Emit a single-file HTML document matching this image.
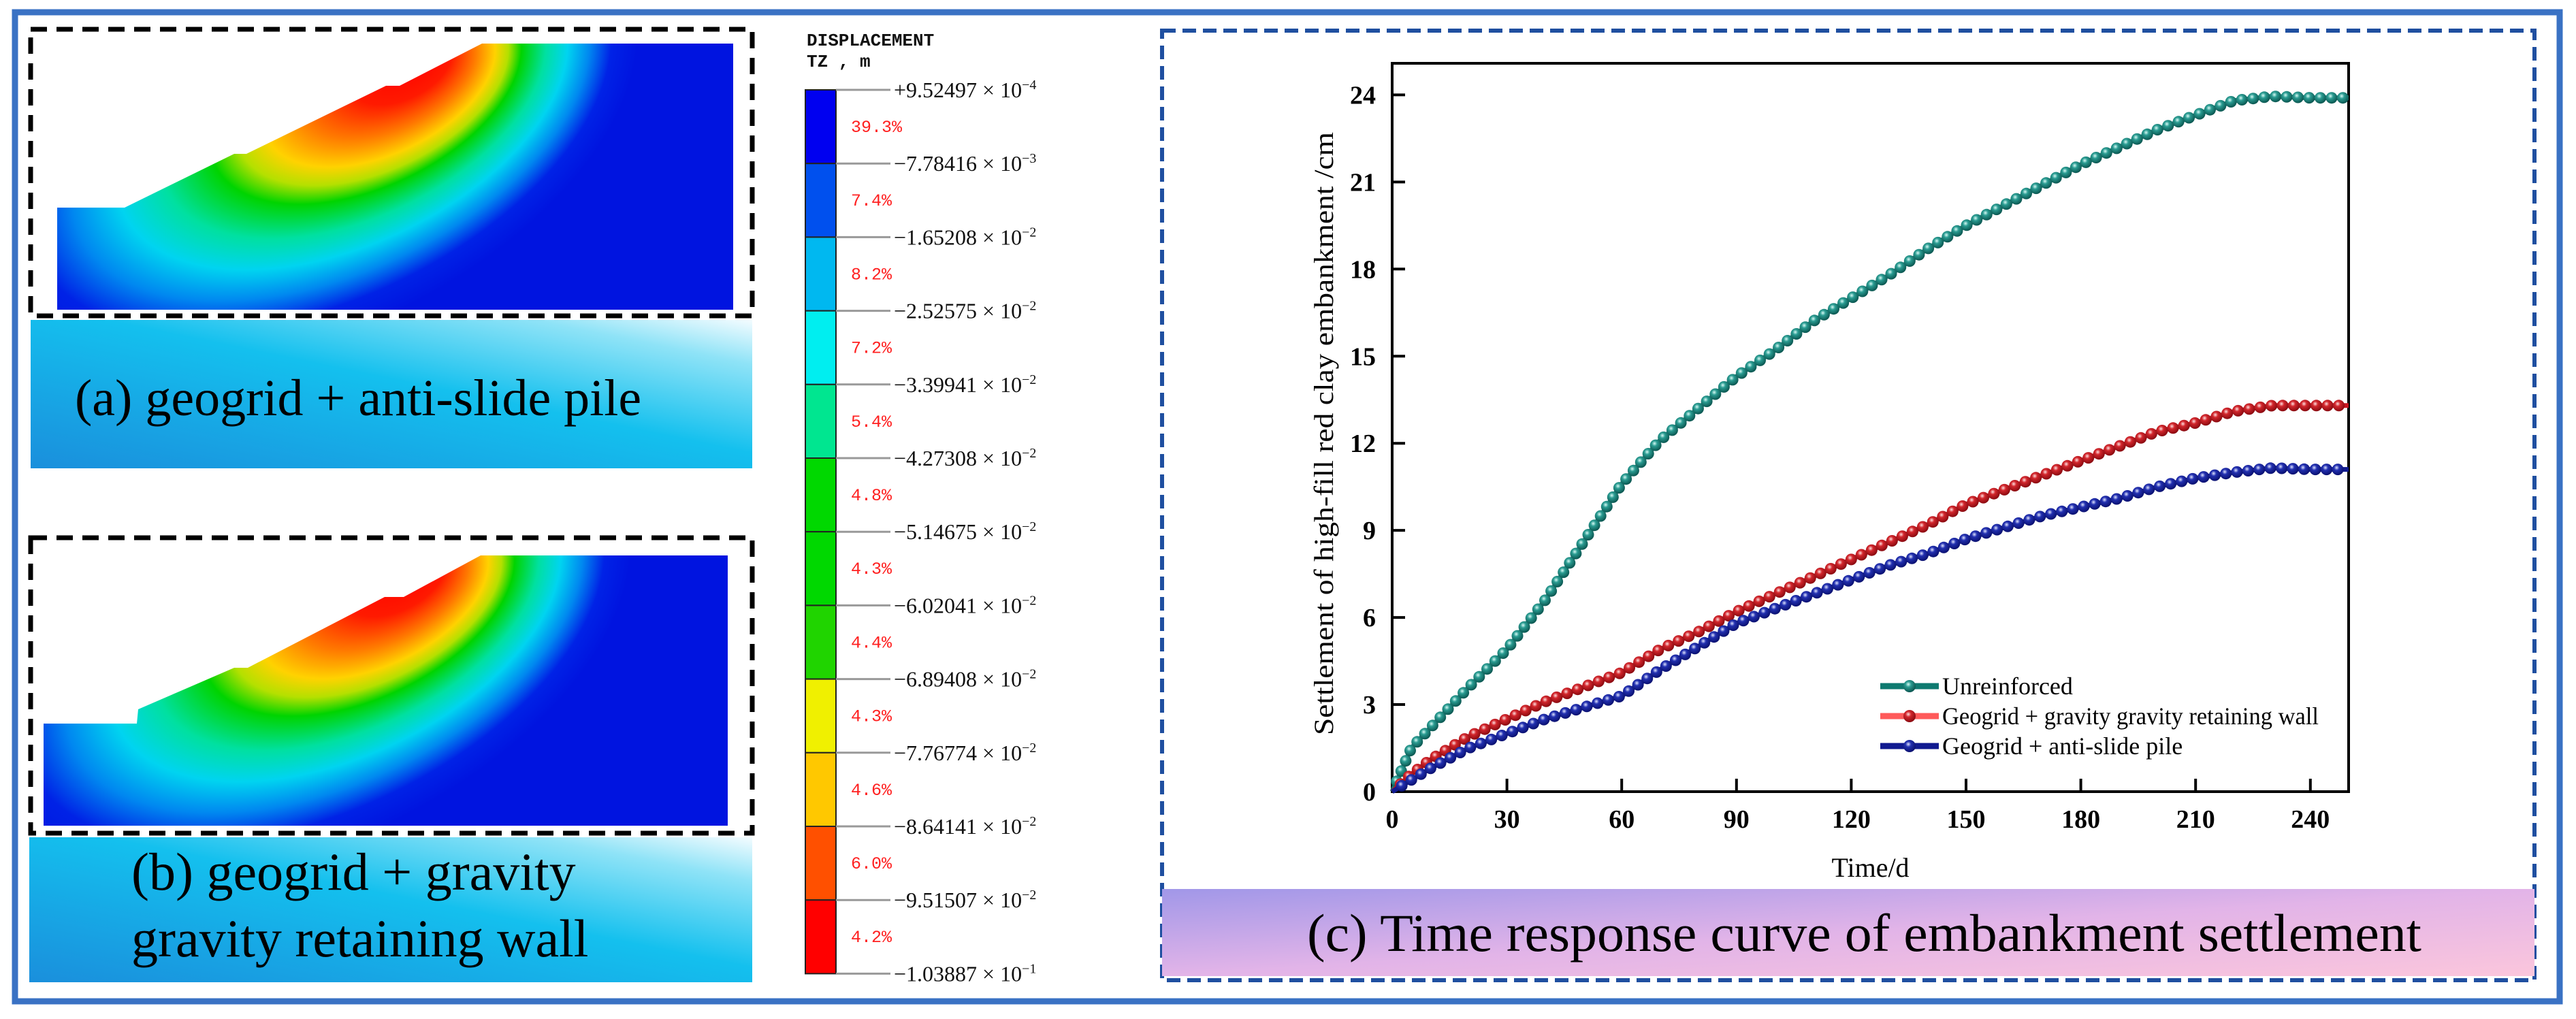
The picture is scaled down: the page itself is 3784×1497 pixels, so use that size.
<!DOCTYPE html>
<html><head><meta charset="utf-8"><style>
html,body{margin:0;padding:0;background:#fff;}
svg{display:block;}
text{font-family:"Liberation Serif",serif;}
</style></head><body>
<svg id="root" width="3784" height="1497" viewBox="0 0 3784 1497" xmlns="http://www.w3.org/2000/svg">
<defs>
<linearGradient id="capAB" x1="0" y1="1" x2="1" y2="0">
<stop offset="0" stop-color="#1a8fdc"/><stop offset="0.55" stop-color="#14c0ee"/><stop offset="0.85" stop-color="#8fe3f7"/><stop offset="1" stop-color="#f4fcff"/>
</linearGradient>
<linearGradient id="capC" x1="0" y1="0" x2="1" y2="1">
<stop offset="0" stop-color="#a197e8"/><stop offset="0.5" stop-color="#e2b4e8"/><stop offset="1" stop-color="#fbc6dc"/>
</linearGradient>
<radialGradient id="slopeA" gradientUnits="userSpaceOnUse" cx="0" cy="0" r="1" fx="0.38" fy="-0.12" gradientTransform="translate(450,200) rotate(-25) scale(520,290)">
<stop offset="0" stop-color="#ff0000"/><stop offset="0.15" stop-color="#ff1a00"/><stop offset="0.26" stop-color="#ff7a00"/><stop offset="0.35" stop-color="#ffd200"/><stop offset="0.41" stop-color="#b4e000"/><stop offset="0.47" stop-color="#00d400"/><stop offset="0.58" stop-color="#00e0a0"/><stop offset="0.68" stop-color="#00d4f0"/><stop offset="0.78" stop-color="#0088f0"/><stop offset="0.88" stop-color="#0022e6"/><stop offset="1" stop-color="#0014e0"/>
</radialGradient>
<radialGradient id="slopeB" gradientUnits="userSpaceOnUse" cx="0" cy="0" r="1" fx="0.38" fy="-0.12" gradientTransform="translate(440,952) rotate(-25) scale(520,290)">
<stop offset="0" stop-color="#ff0000"/><stop offset="0.15" stop-color="#ff1a00"/><stop offset="0.26" stop-color="#ff7a00"/><stop offset="0.35" stop-color="#ffd200"/><stop offset="0.41" stop-color="#b4e000"/><stop offset="0.47" stop-color="#00d400"/><stop offset="0.58" stop-color="#00e0a0"/><stop offset="0.68" stop-color="#00d4f0"/><stop offset="0.78" stop-color="#0088f0"/><stop offset="0.88" stop-color="#0022e6"/><stop offset="1" stop-color="#0014e0"/>
</radialGradient>
<radialGradient id="ballT" cx="0.4" cy="0.35" r="0.65"><stop offset="0" stop-color="#d8fbf6"/><stop offset="0.35" stop-color="#2a9c92"/><stop offset="1" stop-color="#0a5650"/></radialGradient>
<radialGradient id="ballR" cx="0.4" cy="0.35" r="0.65"><stop offset="0" stop-color="#ffe0e0"/><stop offset="0.35" stop-color="#d2262c"/><stop offset="1" stop-color="#8a0a10"/></radialGradient>
<radialGradient id="ballB" cx="0.4" cy="0.35" r="0.65"><stop offset="0" stop-color="#e0e4ff"/><stop offset="0.35" stop-color="#2230b0"/><stop offset="1" stop-color="#0a1070"/></radialGradient>
</defs>

<rect x="22" y="18" width="3738" height="1453" fill="none" stroke="#3a72c4" stroke-width="9"/>

<g>
<polygon points="84,305 183,305 344,226 362,226 567,126 587,126 708,64 1077,64 1077,455 84,455" fill="url(#slopeA)"/>
<rect x="45" y="43" width="1060" height="421" fill="none" stroke="#000" stroke-width="7" stroke-dasharray="24 14"/>
<rect x="45" y="470" width="1060" height="218" fill="url(#capAB)"/>
<text x="110" y="610" font-size="76" fill="#000">(a) geogrid + anti-slide pile</text>
</g>

<g>
<polygon points="64,1063 201,1063 203,1042 344,981 364,981 565,877 593,877 706,816 1069,816 1069,1213 64,1213" fill="url(#slopeB)"/>
<rect x="45" y="790" width="1060" height="434" fill="none" stroke="#000" stroke-width="7" stroke-dasharray="24 14"/>
<rect x="43" y="1230" width="1062" height="213" fill="url(#capAB)"/>
<text x="193" y="1307" font-size="78" fill="#000">(b) geogrid + gravity</text>
<text x="193" y="1405" font-size="78" fill="#000">gravity retaining wall</text>
</g>

<g id="cbar">
<text x="1185" y="67" font-size="26" font-weight="bold" style="font-family:'Liberation Mono',monospace" fill="#111">DISPLACEMENT</text>
<text x="1185" y="98" font-size="26" font-weight="bold" style="font-family:'Liberation Mono',monospace" fill="#111">TZ , m</text>
</g>

<rect x="1707" y="45" width="2016" height="1395" fill="none" stroke="#1f4fa0" stroke-width="6" stroke-dasharray="20 10"/>
<rect x="1707" y="1306" width="2016" height="128" fill="url(#capC)"/>
<text x="1920" y="1397" font-size="78" textLength="1637" lengthAdjust="spacingAndGlyphs" fill="#000">(c) Time response curve of embankment settlement</text>

<g id="chart"></g>
</svg>
<script>
const NS="http://www.w3.org/2000/svg";
// ---- chart data ----
const days=[0,5,10,20,30,40,50,60,70,80,90,100,110,120,130,140,150,160,170,180,190,200,210,220,230,240,250];
const unreinforced=[0,1.5,2.2,3.6,4.9,6.6,8.6,10.6,12.1,13.2,14.3,15.2,16.2,17.0,17.8,18.7,19.5,20.2,20.9,21.6,22.2,22.8,23.3,23.8,23.95,23.9,23.9];
const wallSeries=[0,0.6,1.1,1.9,2.5,3.1,3.6,4.1,4.9,5.5,6.2,6.8,7.4,8.0,8.6,9.2,9.9,10.4,10.9,11.4,11.9,12.4,12.7,13.1,13.3,13.3,13.3];
const pileSeries=[0,0.4,0.8,1.5,2.0,2.5,2.9,3.3,4.2,5.0,5.8,6.3,6.8,7.3,7.8,8.2,8.7,9.1,9.5,9.8,10.1,10.5,10.8,11.0,11.15,11.1,11.1];
const seriesNames=["Unreinforced","Geogrid + gravity gravity retaining wall","Geogrid + anti-slide pile"];
const xTicks=[0,30,60,90,120,150,180,210,240];
const yTicks=[0,3,6,9,12,15,18,21,24];
const cbLabels=["+9.52497","\u22127.78416","\u22121.65208","\u22122.52575","\u22123.39941","\u22124.27308","\u22125.14675","\u22126.02041","\u22126.89408","\u22127.76774","\u22128.64141","\u22129.51507","\u22121.03887"];
const cbExp=["\u22124","\u22123","\u22122","\u22122","\u22122","\u22122","\u22122","\u22122","\u22122","\u22122","\u22122","\u22122","\u22121"];
const cbPct=["39.3%","7.4%","8.2%","7.2%","5.4%","4.8%","4.3%","4.4%","4.3%","4.6%","6.0%","4.2%"];
const cbColors=["#0000f0","#0050ee","#00b8f0","#00eef0","#00e690","#00d800","#00d800","#20d400","#f0f000","#ffc800","#ff5000","#ff0000"];

function mk(tag,attrs,parent){const e=document.createElementNS(NS,tag);for(const k in attrs)e.setAttribute(k,attrs[k]);parent.appendChild(e);return e;}

const cb=document.getElementById('cbar');
const cbX=1183,cbW=45,cbTop=132,cbSeg=108.2;
cbColors.forEach((c,i)=>{
  const r=mk('rect',{x:cbX,y:cbTop+i*cbSeg,width:cbW,height:cbSeg,fill:c,stroke:'#222','stroke-width':2},cb);
  
  
  const p=mk('text',{x:1250,y:cbTop+i*cbSeg+62,'font-size':25,fill:'#ff2020',style:"font-family:'Liberation Mono',monospace"},cb);
  p.textContent=cbPct[i];
  
  
});
cbLabels.forEach((l,i)=>{
  const y=cbTop+i*cbSeg;
  const ln=mk('line',{x1:cbX+cbW,x2:1308,y1:y,y2:y,stroke:'#999','stroke-width':3},cb);
  
  
  const t=mk('text',{x:1313,y:y+11,'font-size':32,fill:'#111'},cb);
  t.textContent=l+" \u00d7 10";
  const s=mk('tspan',{dy:-12,'font-size':20},t);
  s.textContent=cbExp[i];
  
  
});

const g=document.getElementById('chart');
const X0=2045,X1=3450,Y0=1163,YT=93;
const xMax=250,yPer=42.65;
const sx=d=>X0+(d/xMax)*(X1-X0);
const sy=v=>Y0-v*yPer;

const frame=mk('rect',{x:X0,y:YT,width:X1-X0,height:Y0-YT,fill:'none',stroke:'#000','stroke-width':4},g);



xTicks.forEach(t=>{
  const l=mk('line',{x1:sx(t),x2:sx(t),y1:Y0,y2:Y0-19,stroke:'#000','stroke-width':4},g);
  
  
  const tx=mk('text',{x:sx(t),y:1216,'font-size':38,'font-weight':'bold','text-anchor':'middle',fill:'#000'},g);
  tx.textContent=t;
  
  
});
yTicks.forEach(t=>{
  const l=mk('line',{x1:X0,x2:X0+19,y1:sy(t),y2:sy(t),stroke:'#000','stroke-width':4},g);
  
  
  const tx=mk('text',{x:2021,y:sy(t)+13,'font-size':38,'font-weight':'bold','text-anchor':'end',fill:'#000'},g);
  tx.textContent=t;
  
  
});
const xt=mk('text',{x:(X0+X1)/2,y:1288,'font-size':40,'text-anchor':'middle',fill:'#000'},g);
xt.textContent="Time/d";


const yt=mk('text',{x:0,y:0,'font-size':40,'text-anchor':'middle',fill:'#000',transform:'translate(1958,637) rotate(-90)',textLength:886,lengthAdjust:'spacingAndGlyphs'},g);
yt.textContent="Settlement of  high-fill red clay embankment /cm";



const series=[unreinforced,wallSeries,pileSeries];
const lineCols=["#0e7a70","#c8141e","#101a90"];
const balls=["url(#ballT)","url(#ballR)","url(#ballB)"];
const keys=["unreinforced","geogrid-wall","geogrid-pile"];
series.forEach((vals,si)=>{
  const sg=mk('g',{},g);
  
  
  const d=vals.map((v,i)=>(i?'L':'M')+sx(days[i]).toFixed(1)+','+sy(v).toFixed(1)).join(' ');
  const p=mk('path',{d:d,fill:'none',stroke:lineCols[si],'stroke-width':7,'stroke-linejoin':'round'},sg);
  
  
  const L=p.getTotalLength();
  const step=16.5;
  for(let s=step;s<=L-6;s+=step){
    const pt=p.getPointAtLength(s);
    const c=mk('circle',{cx:pt.x.toFixed(1),cy:pt.y.toFixed(1),r:8.5,fill:balls[si]},sg);
    
    
  }
});
const lg=mk('g',{},g);


const legY=[1008,1052,1096];
seriesNames.forEach((n,i)=>{
  const e=mk('g',{},lg);
  
  
  mk('line',{x1:2762,x2:2848,y1:legY[i],y2:legY[i],stroke:i==1?'#ff5a5a':lineCols[i],'stroke-width':9},e);
  mk('circle',{cx:2805,cy:legY[i],r:9,fill:balls[i]},e);
  const t=mk('text',{x:2853,y:legY[i]+12,'font-size':36,fill:'#000'},e);
  t.textContent=n;
  if(i==1){t.setAttribute('textLength',553);t.setAttribute('lengthAdjust','spacingAndGlyphs');}
});
</script>
</body></html>
